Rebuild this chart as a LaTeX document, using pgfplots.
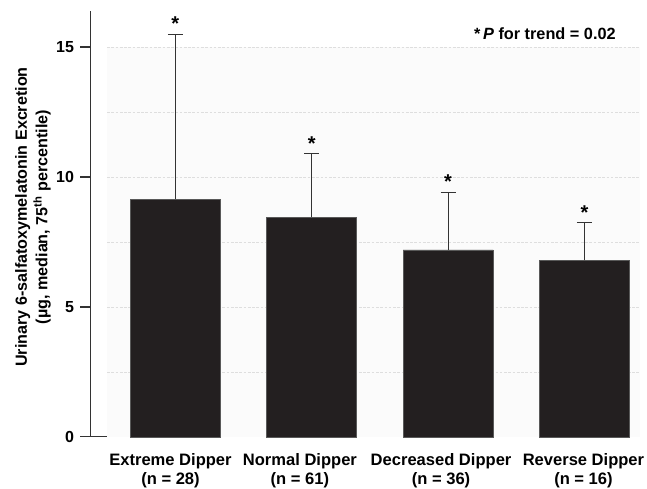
\documentclass[border=0pt]{standalone}
\usepackage{pgfplots}
\pgfplotsset{compat=1.18}
\usepackage{fontspec}
\setmainfont{Liberation Sans}
\definecolor{barc}{HTML}{231F20}
\begin{document}
\begin{tikzpicture}
\path[use as bounding box] (-68pt,-38.5pt) rectangle (417pt,327.5pt);
\begin{axis}[
  scale only axis, width=412pt, height=319.5pt,
  xmin=-0.62, xmax=3.41, ymin=0, ymax=16.4,
  axis lines=left,
  axis line style={-, line width=0.9pt, color=black!80},
  ytick={0,5,10,15},
  tick align=outside, major tick length=8pt,
  ytick style={line width=0.9pt, color=black!80},
  xtick={-0.035,0.914,1.949,2.993},
  xtick style={draw=none},
  xticklabels={{Extreme Dipper\\(n = 28)},{Normal Dipper\\(n = 61)},{Decreased Dipper\\(n = 36)},{Reverse Dipper\\(n = 16)}},
  xticklabel style={align=center, font=\fontsize{12.4}{14.3}\selectfont\bfseries, yshift=-1pt},
  yticklabel style={font=\fontsize{12}{14}\selectfont\bfseries, xshift=-1pt},
  /pgf/number format/assume math mode=true,
  ylabel={Urinary 6-salfatoxymelatonin Excretion\\(µg, median, 75\textsuperscript{th} percentile)},
  ylabel style={align=center, font=\fontsize{12.1}{15.5}\selectfont\bfseries, at={(axis description cs:-0.105,0.516)}, anchor=center},
  clip=false,
]
\fill[black!1.5] (axis cs:-0.5,0) rectangle (axis cs:3.41,15);
\foreach \yy in {2.5,5,7.5,10,12.5,15} {
  \edef\tmp{\noexpand\draw[dash pattern=on 2pt off 1.2pt, black!13, line width=0.4pt] (axis cs:-0.5,\yy) -- (axis cs:3.41,\yy);}
  \tmp
}
\addplot[ybar, bar width=0.66, fill=barc, draw=black!65, line width=0.3pt,
  error bars/.cd, y dir=plus, y explicit,
  error bar style={line width=0.8pt, color=black!80},
  error mark options={rotate=90, mark size=5.6pt, line width=0.8pt, color=black!80}]
  coordinates {
  (0,9.14) +- (0,6.33)
  (1,8.46) +- (0,2.44)
  (2,7.20) +- (0,2.21)
  (3,6.79) +- (0,1.46)
  };
\node[anchor=south, font=\fontsize{15}{15}\selectfont\bfseries, inner sep=0pt] at (axis cs:0,15.62) {*};
\node[anchor=south, font=\fontsize{15}{15}\selectfont\bfseries, inner sep=0pt] at (axis cs:1,11.02) {*};
\node[anchor=south, font=\fontsize{15}{15}\selectfont\bfseries, inner sep=0pt] at (axis cs:2,9.53) {*};
\node[anchor=south, font=\fontsize{15}{15}\selectfont\bfseries, inner sep=0pt] at (axis cs:3,8.37) {*};
\node[anchor=center, font=\fontsize{12.2}{14}\selectfont\bfseries] at (axis cs:2.71,15.51) {*\,\textit{P} for trend = 0.02};
\end{axis}
\end{tikzpicture}
\end{document}
